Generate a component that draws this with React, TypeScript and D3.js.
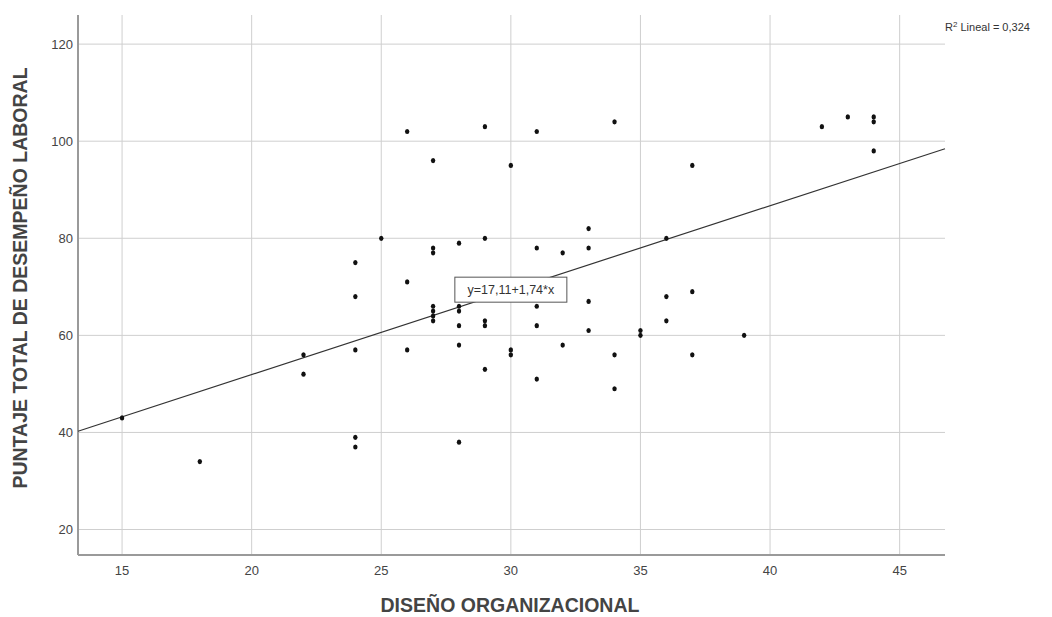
import React from 'react';
import * as d3 from 'd3';

// Diseño organizacional (x) vs puntaje total de desempeño laboral (y)
const xValues = [
  15, 18, 22, 22, 24, 24, 24, 24, 24, 25,
  26, 26, 26, 27, 27, 27, 27, 27, 27, 27,
  28, 28, 28, 28, 28, 28, 29, 29, 29, 29, 29,
  30, 30, 30, 31, 31, 31, 31, 31, 32, 32,
  33, 33, 33, 33, 34, 34, 34, 35, 35,
  36, 36, 36, 37, 37, 37, 39, 42, 43, 44, 44, 44,
];
const yValues = [
  43, 34, 56, 52, 75, 68, 57, 39, 37, 80,
  102, 71, 57, 96, 78, 77, 66, 65, 64, 63,
  79, 65, 62, 58, 38, 66, 103, 80, 63, 62, 53,
  95, 57, 56, 102, 78, 66, 62, 51, 77, 58,
  82, 78, 67, 61, 104, 56, 49, 61, 60,
  80, 68, 63, 95, 69, 56, 60, 103, 105, 105, 104, 98,
];
const xTicks = [15, 20, 25, 30, 35, 40, 45];
const yTicks = [20, 40, 60, 80, 100, 120];
const fit = { intercept: 17.11, slope: 1.74 };

const margin = { left: 78, right: 107, top: 15, bottom: 62 };
const W = 1052;
const H = 617;

export default function App() {
  const x = d3.scaleLinear().domain([13.3, 46.75]).range([margin.left, W - margin.right]);
  const y = d3.scaleLinear().domain([14.75, 126]).range([H - margin.bottom, margin.top]);
  const [x0, x1] = x.domain();
  const line = d3.line<number>().x(d => x(d)).y(d => y(fit.intercept + fit.slope * d));
  const font = 'Liberation Sans, Arial, sans-serif';
  const points = xValues.map((v, i) => ({ x: v, y: yValues[i] }));
  const eqX = 30;

  return (
    <svg width={W} height={H} style={{ position: 'absolute', left: 0, top: 0, background: '#fff' }} fontFamily={font}>
      {/* grid */}
      <g stroke="#cfcfcf" strokeWidth={1}>
        {xTicks.map(t => (
          <line key={'gx' + t} x1={x(t)} x2={x(t)} y1={y.range()[1]} y2={y.range()[0]} />
        ))}
        {yTicks.map(t => (
          <line key={'gy' + t} x1={x.range()[0]} x2={x.range()[1]} y1={y(t)} y2={y(t)} />
        ))}
      </g>
      {/* axes */}
      <line x1={x.range()[0]} x2={x.range()[0]} y1={y.range()[1]} y2={y.range()[0]} stroke="#9a9a9a" strokeWidth={2} />
      <line x1={x.range()[0]} x2={x.range()[1]} y1={y.range()[0]} y2={y.range()[0]} stroke="#9a9a9a" strokeWidth={2} />
      {xTicks.map(t => (
        <text key={'tx' + t} x={x(t)} y={H - margin.bottom + 20} textAnchor="middle" fontSize={13} fill="#444">{t}</text>
      ))}
      {yTicks.map(t => (
        <text key={'ty' + t} x={margin.left - 5} y={y(t) + 4.5} textAnchor="end" fontSize={13} fill="#444">{t}</text>
      ))}
      {/* fit line */}
      <path d={line([x0, x1]) || ''} fill="none" stroke="#333" strokeWidth={1.2} />
      {/* points */}
      {points.map((p, i) => (
        <ellipse key={i} cx={x(p.x)} cy={y(p.y)} rx={2.2} ry={2.6} fill="#111" />
      ))}
      {/* equation label */}
      <g transform={`translate(${x(eqX) - 56},${y(fit.intercept + fit.slope * eqX) - 13})`}>
        <rect x={0} y={0} width={112} height={25} fill="#fff" stroke="#555" strokeWidth={1} />
        <text x={56} y={17} textAnchor="middle" fontSize={12.5} fill="#333">y=17,11+1,74*x</text>
      </g>
      {/* R2 */}
      <text x={945} y={31} fontSize={11} fill="#333">
        R<tspan fontSize={8} dy={-4}>2</tspan><tspan dy={4}> Lineal = 0,324</tspan>
      </text>
      {/* titles */}
      <text x={510} y={612} textAnchor="middle" fontSize={19.5} fontWeight="bold" fill="#444">DISEÑO ORGANIZACIONAL</text>
      <text transform={`translate(27,278) rotate(-90)`} textAnchor="middle" fontSize={19.5} fontWeight="bold" fill="#444">PUNTAJE TOTAL DE DESEMPEÑO LABORAL</text>
    </svg>
  );
}
